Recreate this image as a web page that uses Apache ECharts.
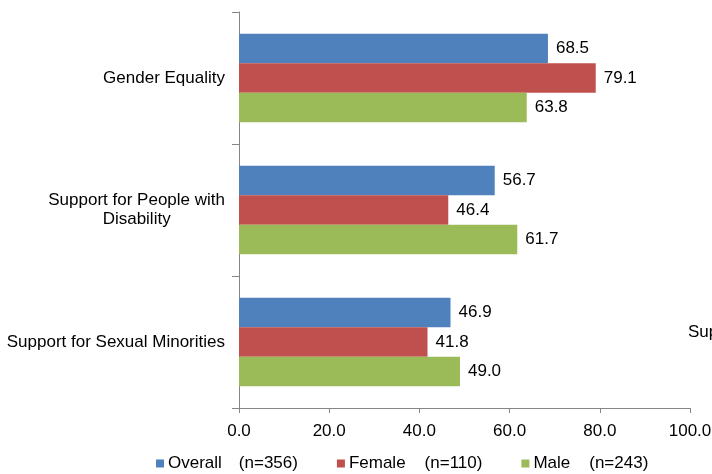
<!DOCTYPE html>
<html>
<head>
<meta charset="utf-8">
<script src="https://cdn.jsdelivr.net/npm/echarts@6/dist/echarts.min.js"></script>
<style>
  html, body { margin: 0; padding: 0; background: #fff; }
  #chart { width: 712px; height: 474px; }
</style>
</head>
<body>
<div id="chart"></div>
<script>
// Categories, top to bottom
const categories = ['Gender Equality', 'Support for People with\nDisability', 'Support for Sexual Minorities'];
// Series values (percent)
const overall = [68.5, 56.7, 46.9];
const female = [79.1, 46.4, 41.8];
const male = [63.8, 61.7, 49.0];
// Legend names: group label and sample size
const groupNames = ['Overall', 'Female', 'Male'];
const sampleSizes = ['(n=356)', '(n=110)', '(n=243)'];
const seriesNames = groupNames.map((g, i) => g + '\t' + sampleSizes[i]);
const colors = ['#4F81BD', '#C0504D', '#9BBB59'];

const font = 'Liberation Sans, Arial, sans-serif';
const fs = 17;

function makeSeries(name, data, color) {
  return {
    name: name,
    type: 'bar',
    data: data,
    barGap: '0%',
    barCategoryGap: '33%',
    itemStyle: { color: color },
    label: {
      show: true,
      position: 'right',
      distance: 8,
      color: '#000',
      fontFamily: font,
      fontSize: fs,
      formatter: p => p.value.toFixed(1)
    }
  };
}

// Tab-stop style spacing between group name and sample size
const tabPad = [17, 19, 19];

const chart = echarts.init(document.getElementById('chart'));
chart.setOption({
  animation: false,
  backgroundColor: '#fff',
  grid: { left: 239, right: 22, top: 12, bottom: 66, containLabel: false, outerBoundsMode: 'none' },
  legend: {
    left: 156,
    top: 455,
    padding: 0,
    itemWidth: 8,
    itemHeight: 8,
    itemGap: 39,
    icon: 'rect',
    data: seriesNames,
    formatter: name => {
      const parts = name.split('\t');
      const i = groupNames.indexOf(parts[0]);
      return '{g' + i + '|' + parts[0] + '}{n|' + parts[1] + '}';
    },
    textStyle: {
      color: '#000',
      fontFamily: font,
      fontSize: fs,
      padding: [0, 0, 0, -1],
      rich: {
        g0: { color: '#000', fontFamily: font, fontSize: fs, padding: [0, tabPad[0], 0, 0] },
        g1: { color: '#000', fontFamily: font, fontSize: fs, padding: [0, tabPad[1], 0, 0] },
        g2: { color: '#000', fontFamily: font, fontSize: fs, padding: [0, tabPad[2], 0, 0] },
        n: { color: '#000', fontFamily: font, fontSize: fs }
      }
    }
  },
  xAxis: {
    type: 'value',
    min: 0,
    max: 100,
    interval: 20,
    axisLine: { show: true, lineStyle: { color: '#868686', width: 1 } },
    axisTick: { show: true, length: 5, lineStyle: { color: '#868686' } },
    splitLine: { show: false },
    axisLabel: {
      color: '#000',
      fontFamily: font,
      fontSize: fs,
      margin: 15,
      formatter: v => v.toFixed(1)
    }
  },
  yAxis: {
    type: 'category',
    inverse: true,
    data: categories,
    axisLine: { show: true, lineStyle: { color: '#868686', width: 1 } },
    axisTick: { show: true, length: 7, lineStyle: { color: '#868686' } },
    axisLabel: {
      margin: 14,
      formatter: v => '{c|' + v + '}',
      rich: {
        c: { align: 'center', color: '#000', fontFamily: font, fontSize: fs, lineHeight: 19 }
      }
    }
  },
  graphic: [{
    type: 'text',
    left: 688,
    top: 324,
    style: { text: 'Support for Sexual Minorities', fill: '#000', font: fs + 'px ' + font }
  }],
  series: [
    makeSeries(seriesNames[0], overall, colors[0]),
    makeSeries(seriesNames[1], female, colors[1]),
    makeSeries(seriesNames[2], male, colors[2])
  ]
});
</script>
</body>
</html>
